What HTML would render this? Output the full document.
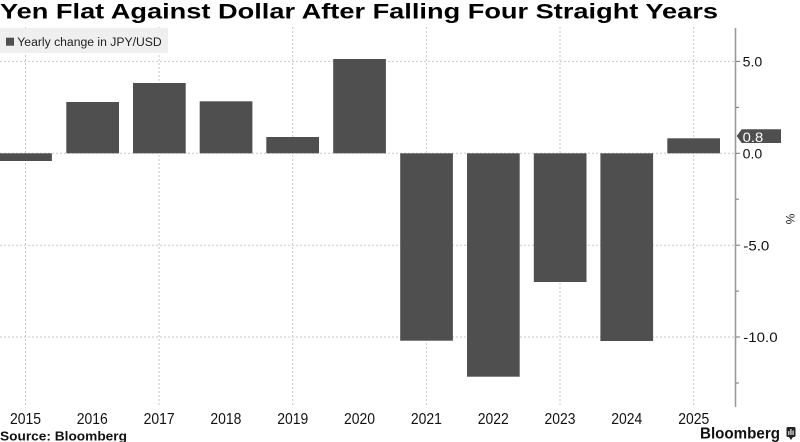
<!DOCTYPE html>
<html>
<head>
<meta charset="utf-8">
<style>
html,body{margin:0;padding:0;background:#fff;}
svg{display:block;}
text{font-family:"Liberation Sans","DejaVu Sans",sans-serif;}
</style>
</head>
<body>
<svg width="800" height="442" viewBox="0 0 800 442" xmlns="http://www.w3.org/2000/svg">
  <!-- Title -->
  <text x="0" y="18.5" font-size="21" font-weight="bold" fill="#000" textLength="718" lengthAdjust="spacingAndGlyphs">Yen Flat Against Dollar After Falling Four Straight Years</text>

  <!-- vertical gridlines -->
  <g stroke="#c8c8c8" stroke-width="1" stroke-dasharray="2,2">
    <line x1="25.5" y1="27" x2="25.5" y2="405"/>
    <line x1="159.1" y1="27" x2="159.1" y2="405"/>
    <line x1="292.7" y1="27" x2="292.7" y2="405"/>
    <line x1="426.4" y1="27" x2="426.4" y2="405"/>
    <line x1="560" y1="27" x2="560" y2="405"/>
    <line x1="693.7" y1="27" x2="693.7" y2="405"/>
  </g>
  <!-- horizontal gridlines -->
  <g stroke="#c8c8c8" stroke-width="1" stroke-dasharray="2,2">
    <line x1="0" y1="61.4" x2="735" y2="61.4"/>
    <line x1="0" y1="153.3" x2="735" y2="153.3"/>
    <line x1="0" y1="245.2" x2="735" y2="245.2"/>
    <line x1="0" y1="337" x2="735" y2="337"/>
  </g>

  <!-- Legend -->
  <rect x="0" y="28" width="168" height="25" fill="#efefef"/>
  <rect x="6" y="37.7" width="8" height="8" fill="#4f4f4f"/>
  <text x="17.3" y="45.8" font-size="11.5" fill="#222" textLength="144.4" lengthAdjust="spacingAndGlyphs">Yearly change in JPY/USD</text>

  <!-- Bars -->
  <g fill="#4f4f4f">
    <rect x="-0.8" y="153.3" width="52.7" height="7.7"/>
    <rect x="66.3" y="102" width="52.7" height="51.3"/>
    <rect x="133" y="83" width="52.7" height="70.3"/>
    <rect x="199.7" y="101.3" width="52.7" height="52"/>
    <rect x="266.3" y="137" width="52.7" height="16.3"/>
    <rect x="333.2" y="59" width="52.7" height="94.3"/>
    <rect x="400.2" y="153.3" width="52.7" height="187.4"/>
    <rect x="467" y="153.3" width="52.7" height="223.4"/>
    <rect x="533.8" y="153.3" width="52.7" height="128.7"/>
    <rect x="600.4" y="153.3" width="52.7" height="187.7"/>
    <rect x="667.3" y="138.3" width="52.7" height="15"/>
  </g>

  <!-- Axis line -->
  <line x1="735.5" y1="28" x2="735.5" y2="407" stroke="#9a9a9a" stroke-width="1.6"/>
  <!-- ticks -->
  <g stroke="#777" stroke-width="1">
    <line x1="736" y1="61.4" x2="740" y2="61.4"/>
    <line x1="736" y1="153.3" x2="740" y2="153.3"/>
    <line x1="736" y1="245.2" x2="740" y2="245.2"/>
    <line x1="736" y1="337" x2="740" y2="337"/>
    <line x1="736" y1="107.4" x2="739" y2="107.4"/>
    <line x1="736" y1="199.2" x2="739" y2="199.2"/>
    <line x1="736" y1="291.1" x2="739" y2="291.1"/>
    <line x1="736" y1="383" x2="739" y2="383"/>
  </g>

  <!-- Y labels -->
  <g font-size="13.5" fill="#111">
    <text x="742.7" y="66.6" textLength="19.6" lengthAdjust="spacingAndGlyphs">5.0</text>
    <text x="742.7" y="158.4" textLength="19.6" lengthAdjust="spacingAndGlyphs">0.0</text>
    <text x="743.3" y="250.3" textLength="26" lengthAdjust="spacingAndGlyphs">-5.0</text>
    <text x="743.3" y="342.1" textLength="34.3" lengthAdjust="spacingAndGlyphs">-10.0</text>
  </g>
  <text x="0" y="0" font-size="12" fill="#222" transform="translate(786,219) rotate(90)" text-anchor="middle">%</text>

  <!-- value label 0.8 -->
  <polygon points="736.7,136 741.7,129.3 781,129.3 781,143 741.7,143" fill="#4f4f4f"/>
  <text x="742.7" y="141.8" font-size="13.5" fill="#fff" textLength="20.6" lengthAdjust="spacingAndGlyphs">0.8</text>

  <!-- X labels -->
  <g font-size="16" fill="#111" text-anchor="middle">
    <text x="25.5" y="424" textLength="31" lengthAdjust="spacingAndGlyphs">2015</text>
    <text x="92.3" y="424" textLength="31" lengthAdjust="spacingAndGlyphs">2016</text>
    <text x="159.1" y="424" textLength="31" lengthAdjust="spacingAndGlyphs">2017</text>
    <text x="225.9" y="424" textLength="31" lengthAdjust="spacingAndGlyphs">2018</text>
    <text x="292.7" y="424" textLength="31" lengthAdjust="spacingAndGlyphs">2019</text>
    <text x="359.5" y="424" textLength="31" lengthAdjust="spacingAndGlyphs">2020</text>
    <text x="426.4" y="424" textLength="31" lengthAdjust="spacingAndGlyphs">2021</text>
    <text x="493.2" y="424" textLength="31" lengthAdjust="spacingAndGlyphs">2022</text>
    <text x="560" y="424" textLength="31" lengthAdjust="spacingAndGlyphs">2023</text>
    <text x="626.8" y="424" textLength="31" lengthAdjust="spacingAndGlyphs">2024</text>
    <text x="693.7" y="424" textLength="31" lengthAdjust="spacingAndGlyphs">2025</text>
  </g>

  <!-- Source -->
  <text x="0" y="440.5" font-size="12.5" font-weight="bold" fill="#111" textLength="127" lengthAdjust="spacingAndGlyphs">Source: Bloomberg</text>

  <!-- Bloomberg logo -->
  <text x="700" y="438.5" font-size="15.5" font-weight="bold" fill="#111" textLength="80" lengthAdjust="spacingAndGlyphs">Bloomberg</text>
  <g>
    <rect x="786.5" y="427" width="9" height="10" rx="1.5" fill="#222"/>
    <polygon points="789,437 793,437 791,440" fill="#222"/>
    <rect x="788.3" y="431" width="1.1" height="4" fill="#fff"/>
    <rect x="790.4" y="429" width="1.1" height="6" fill="#fff"/>
    <rect x="792.5" y="430.5" width="1.1" height="4.5" fill="#fff"/>
  </g>
</svg>
</body>
</html>
